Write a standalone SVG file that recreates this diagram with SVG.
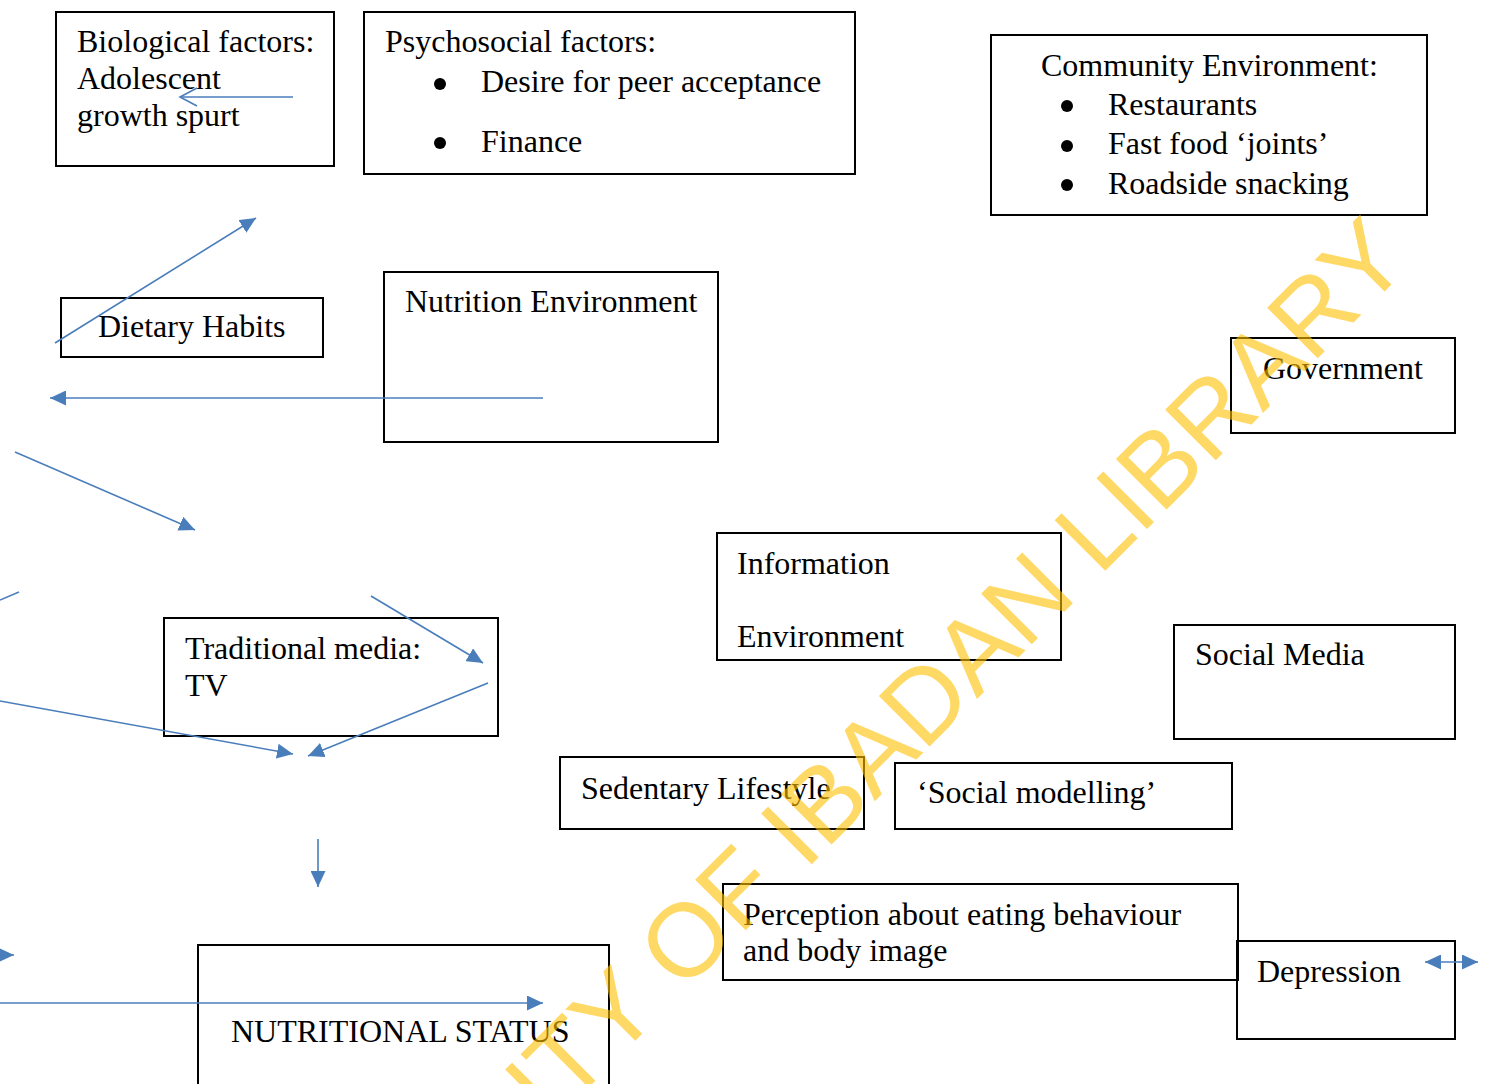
<svg xmlns="http://www.w3.org/2000/svg" width="1488" height="1084" viewBox="0 0 1488 1084">
<style>
.box{fill:none;stroke:#000;stroke-width:2}
.t{font-family:"Liberation Serif","Times New Roman",serif;font-size:32px;fill:#000}
.bul{fill:#000}
.c{fill:none;stroke:#4A7EBB;stroke-width:1.6}
.wm{font-family:"Liberation Sans",Arial,sans-serif;font-size:104px;fill:#FFC000;opacity:0.6}
</style>
<defs>
<marker id="ah" viewBox="0 0 16 15" refX="16" refY="7.5" markerWidth="16" markerHeight="15" markerUnits="userSpaceOnUse" orient="auto-start-reverse">
<path d="M0,0 L16,7.5 L0,15 z" fill="#4A7EBB"/>
</marker>
</defs>
<rect width="1488" height="1084" fill="#fff"/>
<g id="bio"><rect class="box" x="56" y="12" width="278" height="154"/>
<text class="t" x="77" y="52">Biological factors:</text>
<text class="t" x="77" y="89">Adolescent</text>
<text class="t" x="77" y="126">growth spurt</text></g>
<g id="psycho"><rect class="box" x="364" y="12" width="491" height="162"/>
<text class="t" x="385" y="52">Psychosocial factors:</text>
<circle class="bul" cx="440" cy="84" r="6"/>
<text class="t" x="481" y="92">Desire for peer acceptance</text>
<circle class="bul" cx="440" cy="143" r="6"/>
<text class="t" x="481" y="152">Finance</text></g>
<g id="community"><rect class="box" x="991" y="35" width="436" height="180"/>
<text class="t" x="1041" y="76">Community Environment:</text>
<circle class="bul" cx="1067" cy="106" r="6"/>
<text class="t" x="1108" y="115">Restaurants</text>
<circle class="bul" cx="1067" cy="146" r="6"/>
<text class="t" x="1108" y="154">Fast food ‘joints’</text>
<circle class="bul" cx="1067" cy="185" r="6"/>
<text class="t" x="1108" y="194">Roadside snacking</text></g>
<g id="dietary"><rect class="box" x="61" y="298" width="262" height="59"/>
<text class="t" x="98" y="337">Dietary Habits</text></g>
<g id="nutrition-env"><rect class="box" x="384" y="272" width="334" height="170"/>
<text class="t" x="405" y="312">Nutrition Environment</text></g>
<g id="government"><rect class="box" x="1231" y="338" width="224" height="95"/>
<text class="t" x="1263" y="379">Government</text></g>
<g id="info-env"><rect class="box" x="717" y="533" width="344" height="127"/>
<text class="t" x="737" y="574">Information</text>
<text class="t" x="737" y="647">Environment</text></g>
<g id="trad-media"><rect class="box" x="164" y="618" width="334" height="118"/>
<text class="t" x="185" y="659">Traditional media:</text>
<text class="t" x="185" y="696">TV</text></g>
<g id="social-media"><rect class="box" x="1174" y="625" width="281" height="114"/>
<text class="t" x="1195" y="665">Social Media</text></g>
<g id="sedentary"><rect class="box" x="560" y="757" width="304" height="72"/>
<text class="t" x="581" y="799">Sedentary Lifestyle</text></g>
<g id="social-modelling"><rect class="box" x="895" y="763" width="337" height="66"/>
<text class="t" x="917" y="803">‘Social modelling’</text></g>
<g id="perception"><rect class="box" x="723" y="884" width="515" height="96"/>
<text class="t" x="743" y="925">Perception about eating behaviour</text>
<text class="t" x="743" y="961">and body image</text></g>
<g id="depression"><rect class="box" x="1237" y="941" width="218" height="98"/>
<text class="t" x="1257" y="982">Depression</text></g>
<g id="nutritional-status"><rect class="box" x="198" y="945" width="411" height="150"/>
<text class="t" x="231" y="1042">NUTRITIONAL STATUS</text></g>
<g id="connectors">
<line class="c" x1="293" y1="97" x2="180" y2="97"/>
<path class="c" d="M197,88 L180,97 L197,106"/>
<line class="c" x1="55" y1="343" x2="256" y2="218" marker-end="url(#ah)"/>
<line class="c" x1="543" y1="398" x2="50" y2="398" marker-end="url(#ah)"/>
<line class="c" x1="15" y1="452" x2="195" y2="530" marker-end="url(#ah)"/>
<line class="c" x1="0" y1="600" x2="19" y2="592"/>
<line class="c" x1="371" y1="596" x2="483" y2="663" marker-end="url(#ah)"/>
<line class="c" x1="0" y1="701" x2="293" y2="754" marker-end="url(#ah)"/>
<line class="c" x1="488" y1="683" x2="308" y2="756" marker-end="url(#ah)"/>
<line class="c" x1="318" y1="839" x2="318" y2="887" marker-end="url(#ah)"/>
<line class="c" x1="-30" y1="955" x2="14" y2="955" marker-end="url(#ah)"/>
<line class="c" x1="0" y1="1003" x2="543" y2="1003" marker-end="url(#ah)"/>
<line class="c" x1="1425" y1="962" x2="1478" y2="962" marker-start="url(#ah)" marker-end="url(#ah)"/>
</g>
<text class="wm" x="549" y="1127" transform="rotate(-45 549 1127)">ITY OF IBADAN LIBRARY</text>
</svg>
